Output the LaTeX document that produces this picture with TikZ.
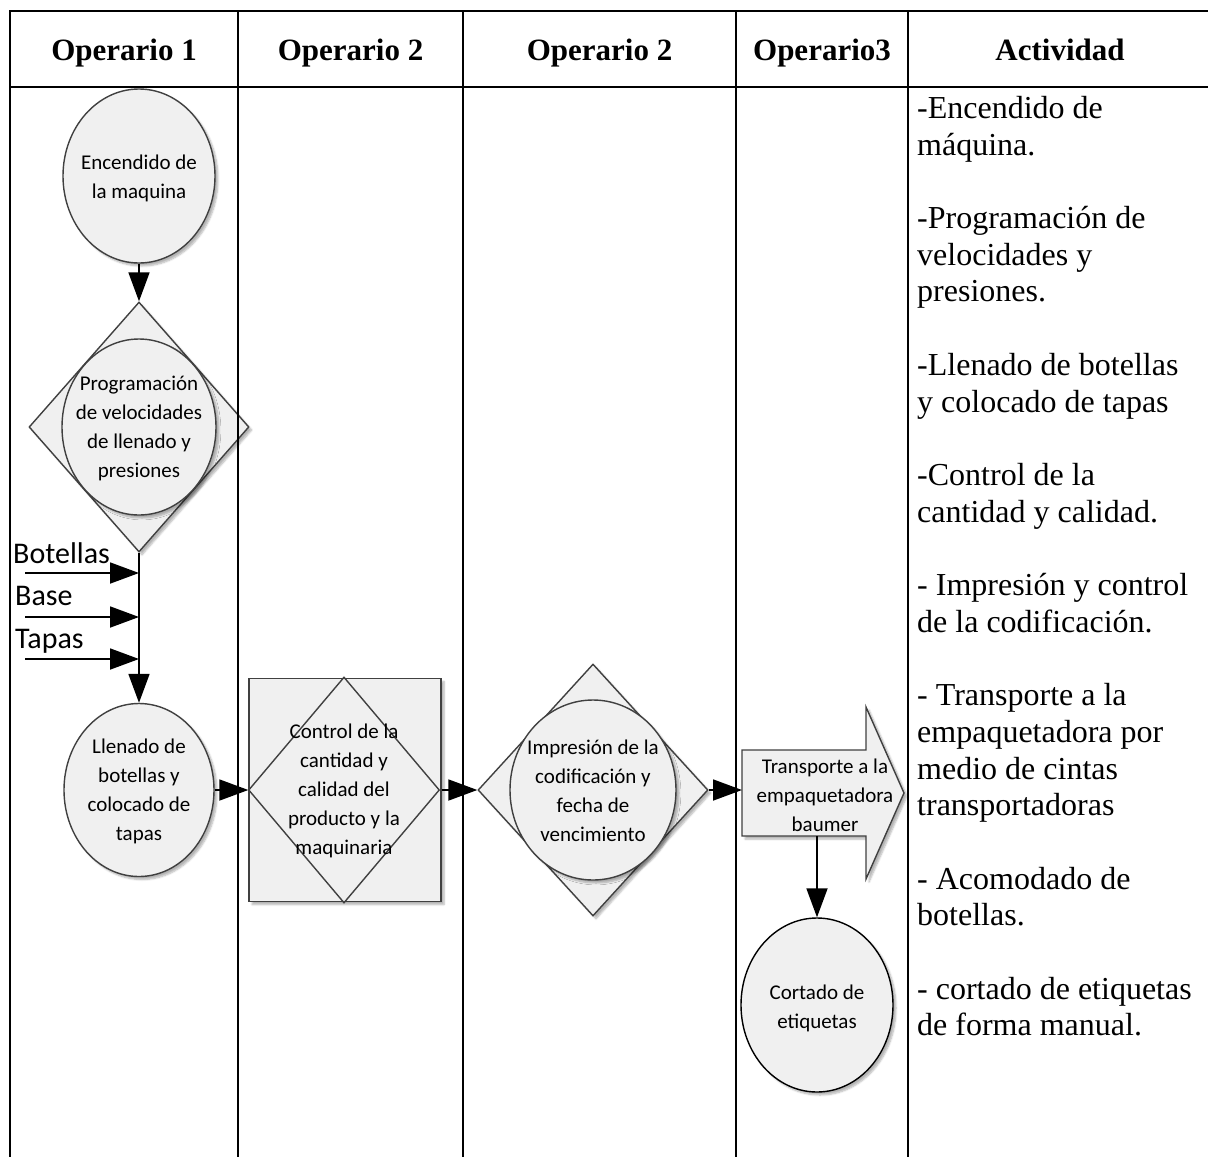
\documentclass[tikz,border=0pt]{standalone}
\usepackage{fontspec}
\setmainfont{Liberation Serif}
\newfontfamily\calib{Carlito}
\usetikzlibrary{shapes.geometric,arrows.meta,shadows.blur}
\begin{document}
\begin{tikzpicture}[x=1pt,y=-1pt,
  grid/.style={line width=2.6pt,black},
  shp/.style={draw=black!75,line width=1.4pt,fill=black!6,
    blur shadow={shadow xshift=3pt,shadow yshift=-3pt,shadow blur steps=6,shadow opacity=30}},
  oval/.style={shp,ellipse,inner sep=0pt},
  rhomb/.style={shp,diamond,inner sep=0pt},
  lbl/.style={font=\calib\fontsize{21}{29}\selectfont,align=center,inner sep=0pt},
  flow/.style={draw=black,line width=1.8pt,-{Triangle[length=29pt,width=21pt,fill=black]}},
  head/.style={font=\bfseries\fontsize{31}{36}\selectfont,anchor=base,inner sep=0pt},
  feed/.style={font=\calib\fontsize{30}{36}\selectfont,anchor=base west,inner sep=0pt},
]
\useasboundingbox (0,0) rectangle (1208,1157);

% --- Operario 1 lane
\node[oval,minimum width=152pt,minimum height=174pt] (enc) at (139,176) {};
\node[lbl] (encT) at (139,178) {Encendido de\\la maquina};

\node[rhomb,minimum width=220pt,minimum height=250pt] (prog) at (139,427) {};
\node[oval,minimum width=154pt,minimum height=176pt] (progO) at (139,427) {};
\node[lbl] (progT) at (139,428) {Programación\\de velocidades\\de llenado y\\presiones};

\node[oval,minimum width=150pt,minimum height=173pt] (llen) at (139,790) {};
\node[lbl] (llenT) at (139,791) {Llenado de\\botellas y\\colocado de\\tapas};

\node[feed] (botL) at (13,563) {Botellas};
\node[feed] (basL) at (15,605) {Base};
\node[feed] (tapL) at (15,648) {Tapas};
\coordinate (botS) at (25,573);  \coordinate (botE) at (139,573);
\coordinate (basS) at (25,617);  \coordinate (basE) at (139,617);
\coordinate (tapS) at (25,659);  \coordinate (tapE) at (139,659);

% --- Operario 2 lane: control
\node[shp,rectangle,minimum width=192pt,minimum height=223pt,inner sep=0pt] (ctrl) at (345,790) {};
\node[draw=black!75,line width=1.4pt,diamond,minimum width=191pt,minimum height=226pt,inner sep=0pt] (ctrlD) at (344,790) {};
\node[lbl] (ctrlT) at (344,791) {Control de la\\cantidad y\\calidad del\\producto y la\\maquinaria};

% --- Operario 2 lane: printing
\node[rhomb,minimum width=230pt,minimum height=252pt] (imp) at (593,790) {};
\node[oval,minimum width=166pt,minimum height=180pt] (impO) at (593,790) {};
\node[lbl] (impT) at (593,791) {Impresión de la\\codificación y\\fecha de\\vencimiento};

% --- Operario3 lane
\draw[shp] (742,750) -- (866,750) -- (866,707) -- (904,793) -- (866,879)
  -- (866,836) -- (742,836) -- cycle;
\node[lbl] (trans) at (825,795) {Transporte a la\\empaquetadora\\baumer};
\coordinate (transIn) at (742,790);
\coordinate (transOut) at (817,836);

\node[oval,draw=black,minimum width=152pt,minimum height=174pt] (cort) at (817,1005) {};
\node[lbl] (cortT) at (817,1008) {Cortado de\\etiquetas};

% --- connectors
\draw[flow] (enc.south) -- (prog.north);
\draw[flow] (prog.south) -- (llen.north);
\draw[flow] (botS) -- (botE);
\draw[flow] (basS) -- (basE);
\draw[flow] (tapS) -- (tapE);
\draw[flow] (llen.east) -- (ctrl.west);
\draw[flow] (ctrl.east) -- (imp.west);
\draw[flow] (imp.east) -- (transIn);
\draw[flow] (transOut) -- (cort.north);

% --- table
\draw[grid] (10,1157) -- (10,11) -- (1208,11);
\draw[grid] (10,87) -- (1208,87);
\foreach \x in {238,463,736,908} \draw[grid] (\x,11) -- (\x,1157);

\node[head] (h1) at (124,60) {Operario 1};
\node[head] (h2) at (350.5,60) {Operario 2};
\node[head] (h3) at (599.5,60) {Operario 2};
\node[head] (h4) at (822,60) {Operario3};
\node[head] (h5) at (1060,60) {Actividad};

% --- activity list
\node[anchor=north west,inner sep=0pt,align=left,font=\fontsize{32}{36.7}\selectfont] (act) at (917,96)
{-Encendido de\\
máquina.\\[36.7pt]
-Programación de\\
velocidades y\\
presiones.\\[36.7pt]
-Llenado de botellas\\
y colocado de tapas\\[36.7pt]
-Control de la\\
cantidad y calidad.\\[36.7pt]
- Impresión y control\\
de la codificación.\\[36.7pt]
- Transporte a la\\
empaquetadora por\\
medio de cintas\\
transportadoras\\[36.7pt]
- Acomodado de\\
botellas.\\[36.7pt]
- cortado de etiquetas\\
de forma manual.};
\end{tikzpicture}
\end{document}
